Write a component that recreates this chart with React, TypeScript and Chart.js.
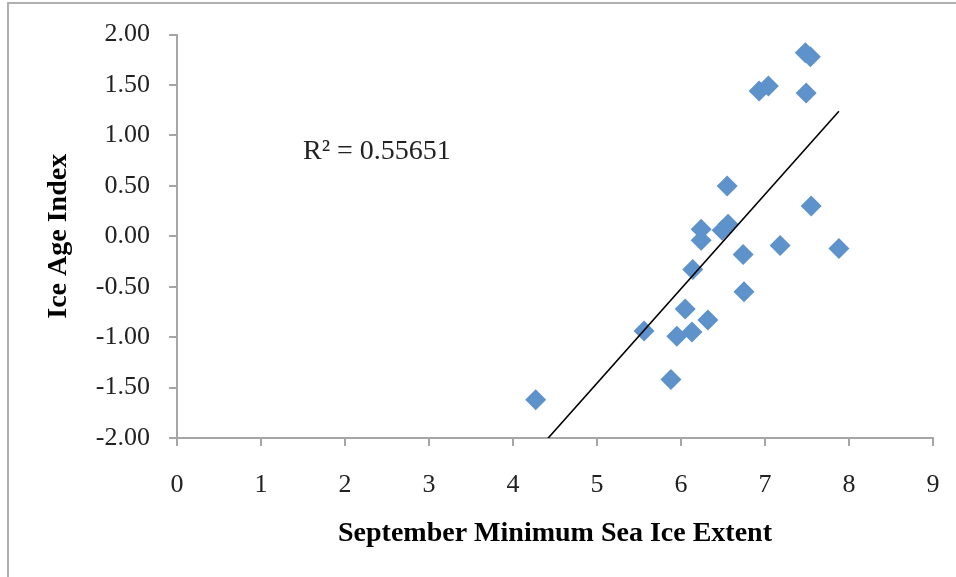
import React, { useEffect, useRef } from "react";
import { Chart, registerables } from "chart.js";

Chart.register(...registerables);

// September minimum sea ice extent (x) vs ice age index (y)
const extentValues = [4.27, 5.56, 5.88, 5.95, 6.13, 6.05, 6.32, 6.14, 6.24, 6.24, 6.49, 6.56, 6.74, 6.75, 7.18, 7.88, 7.55, 6.55, 6.93, 7.04, 7.49, 7.48, 7.54];
const iceAgeValues = [-1.62, -0.94, -1.42, -0.99, -0.95, -0.72, -0.83, -0.33, -0.04, 0.07, 0.06, 0.12, -0.18, -0.55, -0.09, -0.12, 0.3, 0.5, 1.44, 1.49, 1.42, 1.82, 1.78];

// Linear trendline end points (as drawn)
const trendX = [4.27, 7.88];
const trendY = [-2.14, 1.24];

const xTicks = [0, 1, 2, 3, 4, 5, 6, 7, 8, 9];
const yTicks = [-2, -1.5, -1, -0.5, 0, 0.5, 1, 1.5, 2];

const rSquaredLabel = "R² = 0.55651";
const annotX = 1.5;
const annotY = 0.77;

const xTitle = "September Minimum Sea Ice Extent";
const yTitle = "Ice Age Index";

const SERIF = "'Liberation Serif', 'Times New Roman', serif";
const AXIS = "#a6a6a6";

const annotationPlugin = {
  id: "rsq",
  afterDatasetsDraw(chart: any) {
    const { ctx, scales } = chart;
    const x = scales.x.getPixelForValue(annotX);
    const y = scales.y.getPixelForValue(annotY);
    ctx.save();
    ctx.font = `28px ${SERIF}`;
    ctx.fillStyle = "#222";
    ctx.textAlign = "left";
    ctx.textBaseline = "alphabetic";
    ctx.fillText(rSquaredLabel, x, y);
    ctx.restore();
  },
};

export default function App() {
  const ref = useRef<HTMLCanvasElement>(null);
  useEffect(() => {
    if (!ref.current) return;
    const points = extentValues.map((v, i) => ({ x: v, y: iceAgeValues[i] }));
    const trend = trendX.map((v, i) => ({ x: v, y: trendY[i] }));
    const chart = new Chart(ref.current, {
      type: "scatter",
      data: {
        datasets: [
          {
            label: "Linear",
            data: trend,
            showLine: true,
            borderColor: "#000",
            borderWidth: 1.6,
            pointRadius: 0,
            fill: false,
          } as any,
          {
            label: "Data",
            data: points,
            pointStyle: "rectRot",
            pointRadius: 10.5,
            pointHoverRadius: 10.5,
            backgroundColor: "#5d92cb",
            borderColor: "#5d92cb",
            borderWidth: 0,
          },
        ],
      },
      options: {
        responsive: false,
        animation: false,
        devicePixelRatio: 1,
        layout: { padding: { left: 0, top: 34, right: 23, bottom: 0 } },
        plugins: { legend: { display: false }, tooltip: { enabled: false } },
        scales: {
          x: {
            type: "linear",
            min: 0,
            max: 9,
            afterFit: (s: any) => {
              s.height = 139;
            },
            afterBuildTicks: (s: any) => {
              s.ticks = xTicks.map((v) => ({ value: v }));
            },
            ticks: {
              padding: 14,
              color: "#222",
              font: { family: SERIF, size: 26, lineHeight: 1.9 },
              callback: (v: any) => String(v),
            },
            grid: { drawOnChartArea: false, drawTicks: true, tickLength: 8, color: AXIS, lineWidth: 2 },
            border: { display: true, color: AXIS, width: 2 },
            title: {
              display: true,
              text: xTitle,
              color: "#000",
              font: { family: SERIF, size: 28, weight: "bold" },
              padding: { top: 0, bottom: 26 },
            },
          },
          y: {
            type: "linear",
            min: -2,
            max: 2,
            afterFit: (s: any) => {
              s.width = 177;
            },
            afterBuildTicks: (s: any) => {
              s.ticks = yTicks.map((v) => ({ value: v }));
            },
            ticks: {
              padding: 19,
              color: "#222",
              font: { family: SERIF, size: 26 },
              callback: (v: any) => Number(v).toFixed(2),
            },
            grid: { drawOnChartArea: false, drawTicks: true, tickLength: 8, color: AXIS, lineWidth: 2 },
            border: { display: true, color: AXIS, width: 2 },
            title: {
              display: true,
              text: yTitle,
              color: "#000",
              font: { family: SERIF, size: 28, weight: "bold" },
              padding: { top: 42, bottom: 0 },
            },
          },
        },
      },
      plugins: [annotationPlugin],
    });
    return () => chart.destroy();
  }, []);

  return (
    <div style={{ position: "absolute", left: 0, top: 0, width: 956, height: 577, background: "#fff", overflow: "hidden" }}>
      <canvas ref={ref} width={956} height={577} style={{ position: "absolute", left: 0, top: 0, width: 956, height: 577 }} />
      <div
        style={{
          position: "absolute",
          left: 7,
          top: 2,
          width: 960,
          height: 600,
          borderTop: "2px solid #b0b0b0",
          borderLeft: "2px solid #b0b0b0",
          pointerEvents: "none",
        }}
      />
    </div>
  );
}
